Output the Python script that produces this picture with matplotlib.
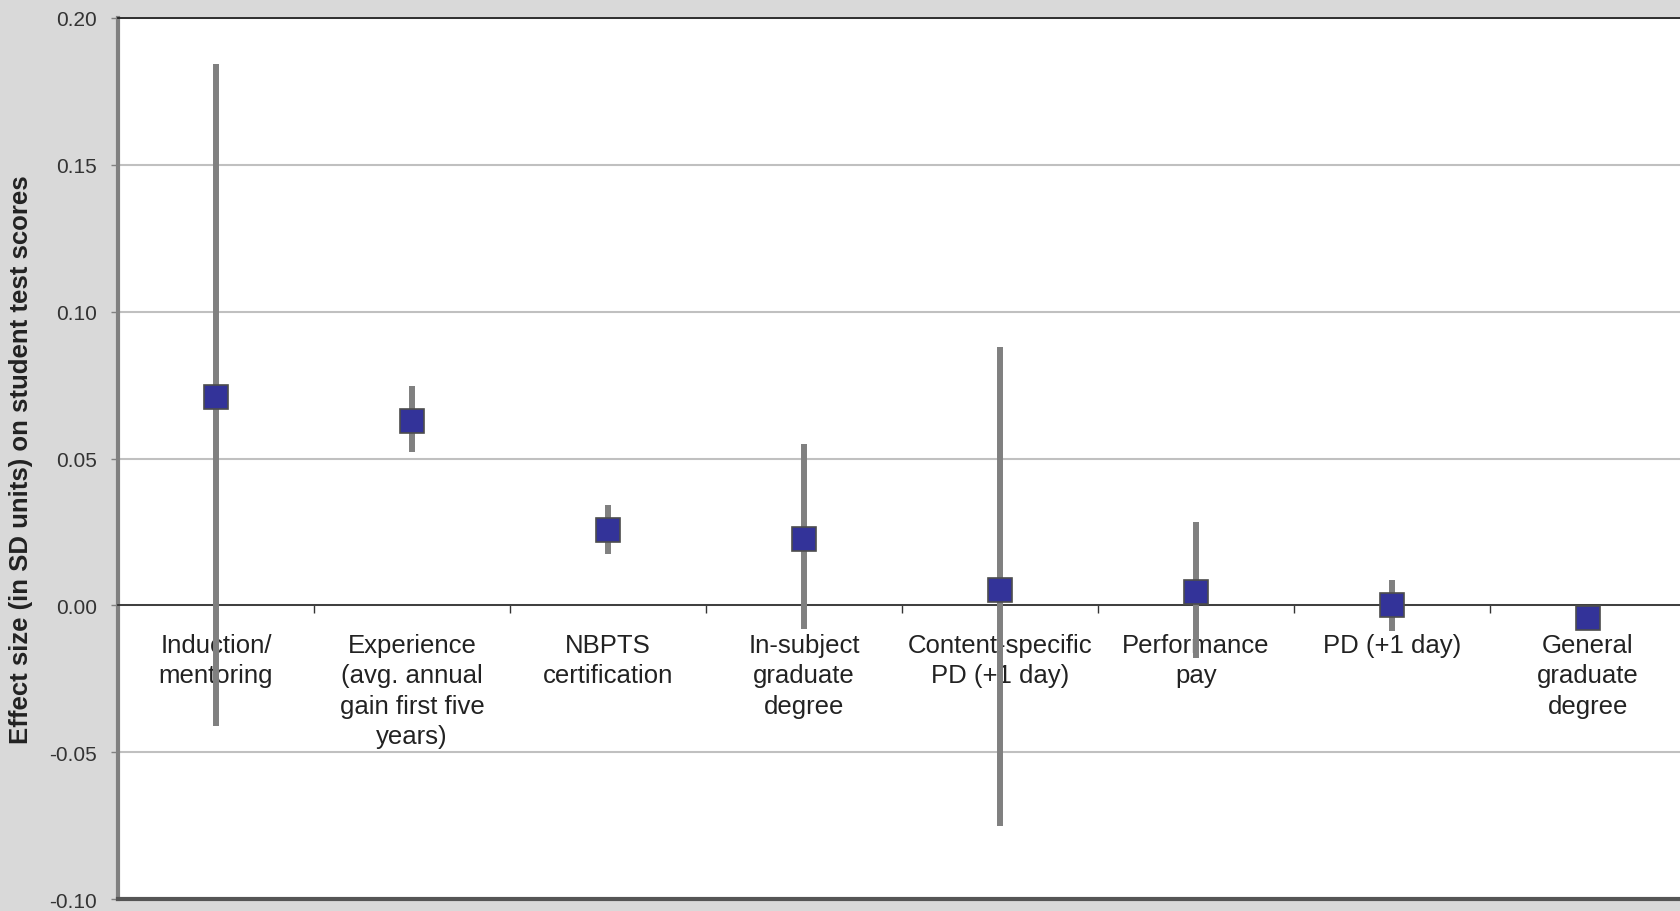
#!/usr/bin/env python3
"""Effect sizes of teacher policies on student test scores, point + range chart."""

import matplotlib.pyplot as plt

CATEGORIES = [
    "Induction/\nmentoring",
    "Experience\n(avg. annual\ngain first five\nyears)",
    "NBPTS\ncertification",
    "In-subject\ngraduate\ndegree",
    "Content-specific\nPD (+1 day)",
    "Performance\npay",
    "PD (+1 day)",
    "General\ngraduate\ndegree",
]
ESTIMATE = [0.0708, 0.0628, 0.0255, 0.0226, 0.0051, 0.0044, 0.0000, -0.0044]
UPPER = [0.1843, 0.0748, 0.0343, 0.0551, 0.0880, 0.0285, 0.0086, -0.0044]
LOWER = [-0.0412, 0.0522, 0.0175, -0.0080, -0.0752, -0.0180, -0.0088, -0.0044]
Y_TICKS = [-0.10, -0.05, 0.00, 0.05, 0.10, 0.15, 0.20]

plt.rcParams["font.family"] = ["Liberation Sans", "DejaVu Sans"]

fig = plt.figure(figsize=(16.8, 9.12), dpi=100, facecolor="#d9d9d9")
ax = fig.add_axes([118 / 1680, 12 / 912, 1568 / 1680, 881 / 912])
ax.set_facecolor("white")

xs = list(range(len(CATEGORIES)))
ax.vlines(xs, LOWER, UPPER, color="#808080", linewidth=4.3, zorder=3)
ax.plot(xs, ESTIMATE, linestyle="none", marker="s", markersize=17,
        markerfacecolor="#333399", markeredgecolor="#4d4d4d",
        markeredgewidth=1.2, zorder=4)

ax.set_xlim(-0.5, len(CATEGORIES) - 0.5)
ax.set_ylim(-0.10, 0.20)
ax.set_yticks(Y_TICKS)
ax.set_yticklabels([f"{v:.2f}" for v in Y_TICKS], fontsize=15, color="#333333")
ax.tick_params(axis="y", length=5, width=1, color="#808080", pad=10)

ax.yaxis.grid(True, color="#c0c0c0", linewidth=1.5)
ax.set_axisbelow(True)

# x axis sits on zero, with ticks at category boundaries
ax.spines["bottom"].set_position(("data", 0))
ax.spines["bottom"].set_color("#333333")
ax.spines["bottom"].set_linewidth(1.3)
ax.set_xticks([i + 0.5 for i in range(len(CATEGORIES) - 1)])
ax.set_xticklabels([])
ax.tick_params(axis="x", length=6, width=1, color="#333333", direction="out")

ax.spines["left"].set_color("#808080")
ax.spines["left"].set_linewidth(3)
ax.spines["top"].set_color("#222222")
ax.spines["top"].set_linewidth(1.3)
ax.spines["right"].set_visible(False)
ax.axhline(-0.10, color="#555555", linewidth=3, clip_on=False, zorder=5)

for x, label in zip(xs, CATEGORIES):
    ax.annotate(label, xy=(x, 0), xytext=(0, -20), textcoords="offset points",
                ha="center", va="top", fontsize=18.5, color="#222222",
                linespacing=1.33, zorder=2)

ax.set_ylabel("Effect size (in SD units) on student test scores",
              fontsize=18.5, fontweight="bold", color="#222222", labelpad=12)

fig.savefig("out.png", dpi=100, facecolor=fig.get_facecolor())
